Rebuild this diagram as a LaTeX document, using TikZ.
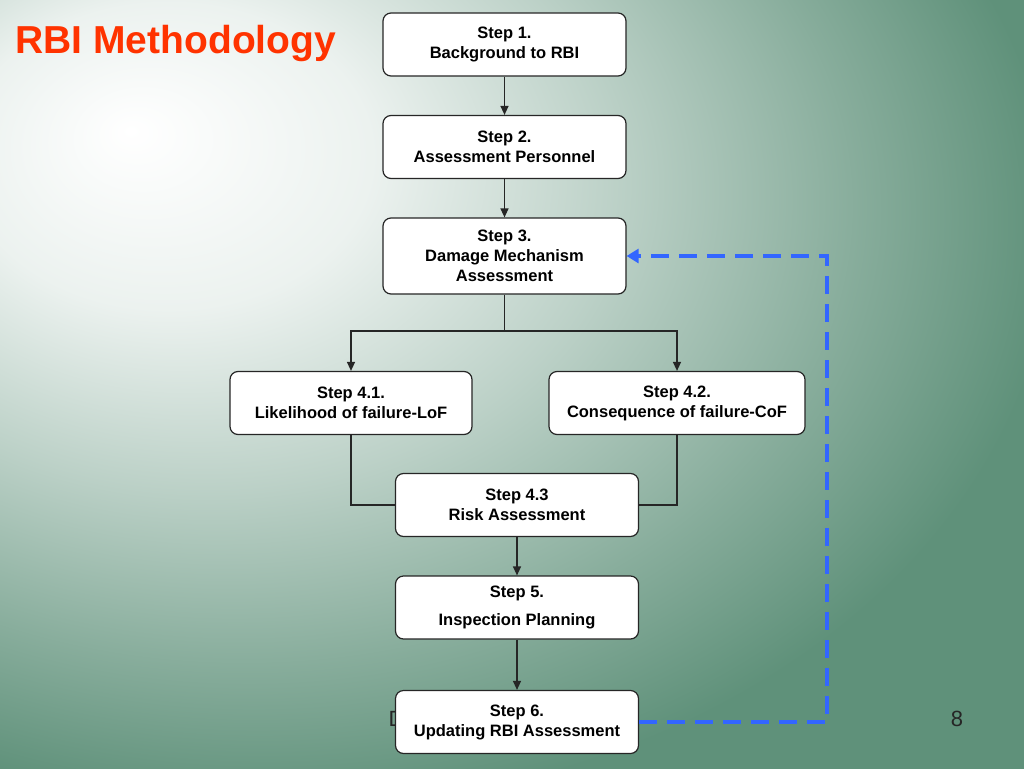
\documentclass[tikz,border=0pt]{standalone}
\usepackage{fontspec}
\setmainfont{Liberation Sans}
\usetikzlibrary{arrows.meta}
\definecolor{slidegreen}{HTML}{5F917A}
\pgfdeclareradialshading{slidebg}{\pgfpoint{-18.65bp}{16.5bp}}{color(0bp)=(white); color(10bp)=(white!88!slidegreen); color(20bp)=(white!58!slidegreen); color(30bp)=(white!25!slidegreen); color(38bp)=(slidegreen); color(100bp)=(slidegreen)}

\begin{document}
\begin{tikzpicture}[x=1pt,y=-1pt,
  stepbox/.style={draw=black!85,line width=1.2pt,fill=white,rounded corners=8pt,
    minimum width=243pt,minimum height=63pt,align=center,inner sep=0pt,
    font=\bfseries\fontsize{16.5}{20}\selectfont},
  link/.style={draw=black!85,line width=1.3pt},
  tip/.style={-{Triangle[length=9pt,width=8pt]}}]
\definecolor{titleorange}{HTML}{FF3300}
\definecolor{loopblue}{HTML}{3366FF}
\useasboundingbox (0,0) rectangle (1024,768);
\shade[shading=slidebg] (0,0) rectangle (1024,768);
\node[anchor=base west,text=titleorange,font=\bfseries\fontsize{39}{39}\selectfont] (title) at (12,53) {RBI Methodology};
\node[anchor=base west,text=black!85,font=\fontsize{22}{22}\selectfont] (footer) at (385,726) {D};
\node[anchor=base,text=black!85,font=\fontsize{22}{22}\selectfont] (pagenum) at (957,726) {8};
% steps
\node[stepbox] (s1) at (504.5,44.5) {Step 1.\\Background to RBI};
\node[stepbox] (s2) at (504.5,147) {Step 2.\\Assessment Personnel};
\node[stepbox,minimum height=76pt] (s3) at (504.5,256) {Step 3.\\Damage Mechanism\\Assessment};
\node[stepbox,minimum width=242pt] (s41) at (351,403) {Step 4.1.\\Likelihood of failure-LoF};
\node[stepbox,minimum width=256pt] (s42) at (677,403) {Step 4.2.\\Consequence of failure-CoF};
\node[stepbox] (s43) at (517,505) {Step 4.3\\Risk Assessment};
\node[stepbox] (s5) at (517,607.5) {Step 5.\\[8pt]Inspection Planning};
\node[stepbox] (s6) at (517,722) {Step 6.\\Updating RBI Assessment};
% connectors
\foreach \from/\to in {s1/s2,s2/s3,s43/s5,s5/s6}
  {\draw[link,tip] (\from) -- (\to);}
\coordinate (split) at (504.5,331);
\draw[link] (s3.south) -- (split);
\draw[link,tip] (split) -| (s41.north);
\draw[link,tip] (split) -| (s42.north);
\draw[link] (s41.south) |- (s43.west);
\draw[link] (s42.south) |- (s43.east);
% feedback loop
\coordinate (bend) at (827,722);
\draw[draw=loopblue,line width=4pt,dash pattern=on 18pt off 10pt,
  -{Triangle[length=12pt,width=14pt,fill=loopblue]}] (s6.east) -- (bend) |- (s3.east);
\end{tikzpicture}
\end{document}
